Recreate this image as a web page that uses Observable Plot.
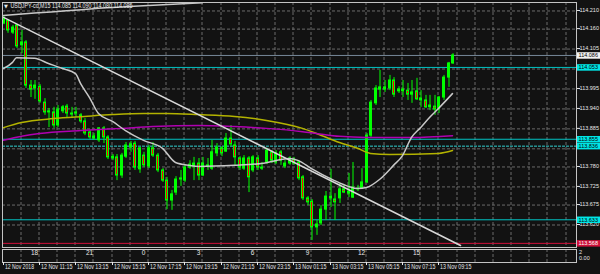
<!DOCTYPE html>
<html><head><meta charset="utf-8">
<script src="https://cdn.jsdelivr.net/npm/d3@7"></script>
<script src="https://cdn.jsdelivr.net/npm/@observablehq/plot@0.6"></script>
<style>
html,body{margin:0;padding:0;background:#121212;}
#chart svg{display:block;}
</style></head><body><div id="chart"></div>
<script>
// ---- data (USDJPY M15, bar index 0 = 12 Nov 09:15) ----
const open = [114.174,114.182,114.149,114.169,114.114,114.122,114.003,113.995,114.000,113.956,
113.929,113.929,113.893,113.932,113.945,113.923,113.926,113.921,113.904,113.874,
113.857,113.852,113.885,113.860,113.802,113.805,113.755,113.807,113.832,113.843,
113.772,113.810,113.780,113.830,113.810,113.769,113.741,113.686,113.708,113.744,
113.741,113.777,113.780,113.788,113.755,113.780,113.774,113.816,113.830,113.821,
113.857,113.838,113.802,113.774,113.802,113.769,113.802,113.774,113.791,113.819,
113.791,113.819,113.780,113.788,113.799,113.791,113.750,113.692,113.683,113.612,
113.623,113.661,113.697,113.689,113.692,113.717,113.711,113.694,113.717,113.719,
113.736,113.865,113.954,113.992,113.998,113.995,114.017,113.987,113.987,113.989,
113.978,113.987,113.962,113.962,113.943,113.945,113.940,113.970,114.025,114.064];
const high = [114.193,114.185,114.169,114.171,114.155,114.127,114.017,114.017,114.006,113.967,
113.940,113.943,113.948,113.948,113.951,113.943,113.943,113.926,113.912,113.879,
113.871,113.887,113.890,113.865,113.813,113.813,113.816,113.846,113.849,113.849,
113.832,113.819,113.838,113.846,113.816,113.774,113.750,113.714,113.752,113.769,
113.783,113.796,113.805,113.802,113.805,113.802,113.852,113.843,113.835,113.871,
113.893,113.849,113.807,113.810,113.807,113.810,113.810,113.791,113.830,113.824,
113.824,113.824,113.796,113.807,113.805,113.796,113.755,113.697,113.689,113.631,
113.672,113.711,113.772,113.705,113.733,113.728,113.761,113.791,113.728,113.774,
113.871,113.962,114.003,114.045,114.017,114.031,114.025,114.000,114.017,114.009,
114.017,114.023,113.989,113.976,113.976,113.976,113.973,114.031,114.067,114.091];
const low = [114.171,114.147,114.144,114.105,114.091,113.995,113.970,113.965,113.954,113.921,
113.887,113.885,113.887,113.926,113.915,113.912,113.915,113.898,113.865,113.854,
113.852,113.846,113.843,113.799,113.796,113.741,113.747,113.802,113.819,113.769,
113.761,113.777,113.774,113.805,113.763,113.736,113.661,113.659,113.700,113.725,
113.736,113.772,113.741,113.741,113.752,113.769,113.769,113.807,113.807,113.819,
113.835,113.783,113.769,113.769,113.708,113.763,113.769,113.769,113.785,113.788,
113.785,113.783,113.774,113.783,113.783,113.741,113.686,113.672,113.576,113.590,
113.617,113.631,113.667,113.631,113.678,113.705,113.694,113.692,113.711,113.717,
113.733,113.860,113.948,113.970,113.984,113.989,113.970,113.981,113.970,113.962,
113.954,113.962,113.943,113.940,113.934,113.921,113.926,113.962,113.998,114.061];
const close = [114.188,114.155,114.163,114.111,114.122,114.003,113.992,114.003,113.959,113.929,
113.932,113.893,113.937,113.943,113.926,113.926,113.929,113.904,113.871,113.860,
113.863,113.885,113.860,113.805,113.807,113.755,113.810,113.838,113.841,113.777,
113.830,113.783,113.830,113.810,113.769,113.741,113.686,113.703,113.744,113.747,
113.777,113.785,113.788,113.755,113.788,113.783,113.819,113.832,113.816,113.857,
113.841,113.805,113.777,113.802,113.750,113.805,113.777,113.777,113.824,113.796,
113.816,113.796,113.788,113.802,113.788,113.747,113.692,113.681,113.612,113.620,
113.661,113.697,113.692,113.681,113.717,113.708,113.705,113.722,113.719,113.736,
113.865,113.956,113.995,113.998,113.992,114.017,113.978,113.992,113.992,113.978,
113.984,113.965,113.967,113.943,113.948,113.937,113.970,114.025,114.064,114.086];

// indicator lines (bar index, price)
const fastIdx = [0,2,3,7,10,13,16,17,19,21,24,27,31,35,38,41,43,51,57,63,65,68,73,76,78,80,83,86,88,90,92,94,96,99];
const fastVal = [114.050,114.067,114.080,114.078,114.064,114.050,114.036,114.009,113.970,113.926,113.904,113.879,113.852,113.830,113.791,113.783,113.780,113.783,113.788,113.802,113.796,113.774,113.741,113.725,113.719,113.722,113.744,113.783,113.810,113.860,113.887,113.915,113.940,113.981];
const slowIdx = [0,4,11,18,24,31,36,43,51,58,66,69,74,78,81,85,96,99];
const slowVal = [113.887,113.901,113.912,113.918,113.923,113.926,113.926,113.923,113.918,113.907,113.885,113.871,113.846,113.830,113.816,113.813,113.816,113.824];
const purpleIdx = [0,4,8,17,26,33,43,51,58,66,69,74,80,90,99];
const purpleVal = [113.852,113.863,113.871,113.879,113.885,113.890,113.893,113.890,113.885,113.876,113.871,113.863,113.860,113.860,113.865];
const upperIdx = [0,7,14,21,32,44];
const upperVal = [114.196,114.203,114.209,114.216,114.224,114.231];
const trendIdx = [0,100.7];
const trendVal = [114.191,113.562];

// horizontal levels
const levelPrices = [114.086,114.053,113.855,113.836,113.633,113.568];
const levelKinds  = ["bid","level","level","levelDot","level","stop"];

// axes
const priceTicks = [114.210,114.160,114.105,113.995,113.940,113.885,113.780,113.725,113.675,113.620];
const priceGrid  = [114.210,114.160,114.105,114.050,113.995,113.940,113.885,113.830,113.780,113.725,113.675,113.620];
const timeIdx = [0,8,16,24,32,40,48,56,64,72,80,88,96];
const timeLabels = ["12 Nov 2018","12 Nov 11:15","12 Nov 13:15","12 Nov 15:15","12 Nov 17:15","12 Nov 19:15","12 Nov 21:15","12 Nov 23:15","13 Nov 01:15","13 Nov 03:15","13 Nov 05:15","13 Nov 07:15","13 Nov 09:15"];
const hourIdx = [7,19,31,43,55,67,79,91];
const hourLabels = ["18","21","0","3","6","9","12","15"];
const subAxisLabels = ["2","0.00"];
const titleMarker = "\u25BC";
const titleText = "USDJPY-cd,M15 114.085 114.090 114.080 114.086";

// ---- layout / style ----
const W = 600, M_L = 2, M_R = 24;
const xMin = -0.15, xMax = 126.3;
const yMin = 113.5566, yMax = 114.232;
const barPx = (W - M_L - M_R) / (xMax - xMin);
const FONT = "'Liberation Sans',Arial,sans-serif";
const UP = "#00ff00", DOWN = "#ff0000", GRID = "#6a6a6a", TXT = "#e8e8e8";
const levelStyle = {
  bid:      {line: "#778899", box: "#f2f2f2", text: "#000", dash: null},
  level:    {line: "#00c4c4", box: "#00e6e6", text: "#000", dash: null},
  levelDot: {line: "#33d0d0", box: "#00e6e6", text: "#000", dash: "3,1"},
  stop:     {line: "#d0103a", box: "#d0103a", text: "#fff", dash: null}
};

const idx = d3.range(open.length);
const upIdx = idx.filter(i => close[i] >= open[i]);
const downIdx = idx.filter(i => close[i] < open[i]);
const gridIdx = d3.range(4, xMax, 4);
const bw = 1 / barPx;

const fmt = d => d.toFixed(3);

const mainMarks = [
  Plot.ruleY(priceGrid, {stroke: GRID, strokeDasharray: "3,2", dy: 0.5}),
  Plot.ruleX(gridIdx, {stroke: GRID, strokeDasharray: "3,2", dx: -0.5}),
  ...levelPrices.map((p, k) => Plot.ruleY([p], {stroke: levelStyle[levelKinds[k]].line, strokeDasharray: levelStyle[levelKinds[k]].dash})),
  Plot.ruleX(idx, {x: i => i, y1: i => low[i], y2: i => high[i], stroke: UP, dx: 0.5}),
  Plot.rect(upIdx, {x1: i => i - bw, x2: i => i + bw, y1: i => open[i], y2: i => close[i], fill: UP, stroke: UP, dx: 0.5}),
  Plot.rect(downIdx, {x1: i => i - bw, x2: i => i + bw, y1: i => open[i], y2: i => close[i], fill: DOWN, stroke: UP, dx: 0.5}),
  Plot.line(slowIdx, {x: d => d, y: (d, i) => slowVal[i], stroke: "#b3b300", curve: "monotone-x"}),
  Plot.line(purpleIdx, {x: d => d, y: (d, i) => purpleVal[i], stroke: "#b000b0", curve: "monotone-x"}),
  Plot.line(fastIdx, {x: d => d, y: (d, i) => fastVal[i], stroke: "#c8c8c8", curve: "monotone-x"}),
  Plot.line(upperIdx, {x: d => d, y: (d, i) => upperVal[i], stroke: "#c8c8c8", curve: "monotone-x"}),
  Plot.line(trendIdx, {x: d => d, y: (d, i) => trendVal[i], stroke: "#d8d8d8"}),
  Plot.frame({stroke: "#c4c4c4"}),
  Plot.axisY(priceTicks, {anchor: "right", tickSize: 3, tickPadding: 0, tickFormat: fmt, color: TXT, fontSize: 5.5, label: null}),
  ...levelPrices.map((p, k) => Plot.ruleY([p], {x1: xMax + 0.25, x2: xMax + 6, stroke: levelStyle[levelKinds[k]].box, strokeWidth: 6.5})),
  ...levelPrices.map((p, k) => Plot.text([p], {y: d => d, x: xMax, dx: 2, textAnchor: "start", text: fmt, fill: levelStyle[levelKinds[k]].text, fontSize: 5.5})),
  Plot.text([titleMarker], {frameAnchor: "top-left", dx: 1.5, dy: 3.5, lineAnchor: "middle", textAnchor: "start", fill: TXT, fontSize: 5, fontFamily: "DejaVu Sans"}),
  Plot.text([titleText], {frameAnchor: "top-left", dx: 8, dy: 3.5, lineAnchor: "middle", textAnchor: "start", fill: TXT, fontSize: 6.5})
];

const main = Plot.plot({
  width: W, height: 248, marginTop: 2, marginBottom: 1, marginLeft: M_L, marginRight: M_R,
  style: {background: "#121212", color: TXT, fontFamily: FONT, fontSize: "6.5px", overflow: "visible"},
  x: {domain: [xMin, xMax], round: true, axis: null},
  y: {domain: [yMin, yMax], axis: null},
  marks: mainMarks
});

const sub = Plot.plot({
  width: W, height: 26, marginTop: 1, marginBottom: 12, marginLeft: M_L, marginRight: M_R,
  style: {background: "#121212", color: TXT, fontFamily: FONT, fontSize: "6.5px", overflow: "visible"},
  x: {domain: [xMin, xMax], round: true, axis: null},
  y: {domain: [0, 1], axis: null},
  marks: [
    Plot.ruleX(gridIdx, {stroke: GRID, strokeDasharray: "3,2", dx: -0.5}),
    Plot.frame({stroke: "#c4c4c4"}),
    Plot.text(hourLabels, {x: hourIdx, frameAnchor: "top", dy: 3.5, lineAnchor: "middle", fill: TXT, fontSize: 6.5}),
    Plot.text([subAxisLabels[0]], {frameAnchor: "top-right", dx: 2.5, dy: 3, lineAnchor: "middle", textAnchor: "start", fill: TXT, fontSize: 5.5}),
    Plot.text([subAxisLabels[1]], {frameAnchor: "bottom-right", dx: 2.5, dy: -4.5, lineAnchor: "middle", textAnchor: "start", fill: TXT, fontSize: 5.5}),
    Plot.axisX(timeIdx, {anchor: "bottom", tickSize: 3, tickFormat: () => "", color: TXT, label: null}),
    Plot.text(timeLabels, {x: timeIdx, frameAnchor: "bottom", dy: 4.5, dx: 1.5, lineAnchor: "middle", textAnchor: "start", fill: TXT, fontSize: 6.5})
  ]
});

// fit the condensed MT4-style labels to the widths seen in the reference
function fitTexts(svg) {
  d3.select(svg).selectAll("text").each(function () {
    const s = this.textContent;
    let w = null;
    if (/Nov/.test(s)) w = (s.length === 11 ? 29 : 31.5);
    else if (/^USDJPY/.test(s)) w = 122;
    if (w) { this.setAttribute("textLength", w); this.setAttribute("lengthAdjust", "spacingAndGlyphs"); }
  });
}
fitTexts(main); fitTexts(sub);

document.getElementById("chart").append(main, sub);
</script></body></html>
